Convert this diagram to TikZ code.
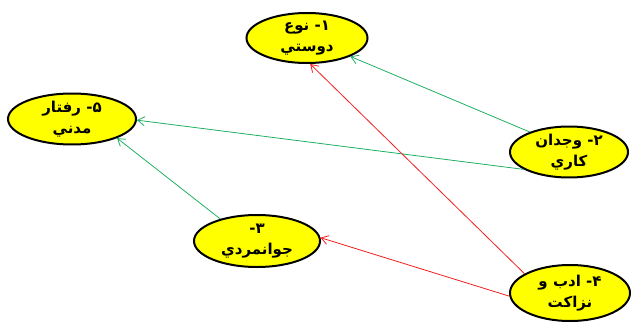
\documentclass[tikz,border=0pt]{standalone}
\usepackage{fontspec}
\usetikzlibrary{shapes.geometric,arrows.meta}
\newfontfamily\arabicfont[Script=Arabic,BoldFont={DejaVu Sans Bold}]{DejaVu Sans}
\TeXXeTstate=1
\definecolor{lgreen}{RGB}{30,175,100}
\definecolor{lred}{RGB}{240,30,30}
\definecolor{yfill}{RGB}{255,255,0}
\tikzset{
  ebox/.style={ellipse, draw=black, line width=2pt, fill=yfill, inner sep=0pt,
    minimum width=#1, align=center, font=\arabicfont\bfseries\fontsize{15}{21}\selectfont},
  ebox/.default=120pt,
  garrow/.style={draw=lgreen, line width=0.8pt, -{Straight Barb[length=7pt,width=9pt]}},
  rarrow/.style={draw=lred, line width=0.8pt, -{Straight Barb[length=7pt,width=9pt]}}
}
\begin{document}
\begin{tikzpicture}[x=1pt,y=-1pt]
\useasboundingbox (0,0) rectangle (631,321);
\node[ebox=121pt, minimum height=50pt] (n1) at (307,38) {\beginR ۱- نوع\endR\\\beginR دوستي\endR};
\node[ebox=128pt, minimum height=48pt] (n5) at (72,119) {\beginR ۵- رفتار\endR\\\beginR مدني\endR};
\node[ebox=118pt, minimum height=50pt] (n2) at (569,152) {\beginR ۲- وجدان\endR\\\beginR کاري\endR};
\node[ebox=126pt, minimum height=52pt] (n3) at (257,241) {\beginR ۳-\endR\\\beginR جوانمردي\endR};
\node[ebox=120pt, minimum height=56pt] (n4) at (570,293) {\beginR ۴- ادب و\endR\\\beginR نزاکت\endR};
\draw[garrow] (n2.153) -- (n1.-23);
\draw[garrow] (n2.201) -- (n5.-1);
\draw[garrow] (n3.149) -- (n5.-23);
\draw[rarrow] (n4.157) -- (n1.-83);
\draw[rarrow] (n4.183) -- (n3.3);
\end{tikzpicture}
\end{document}
